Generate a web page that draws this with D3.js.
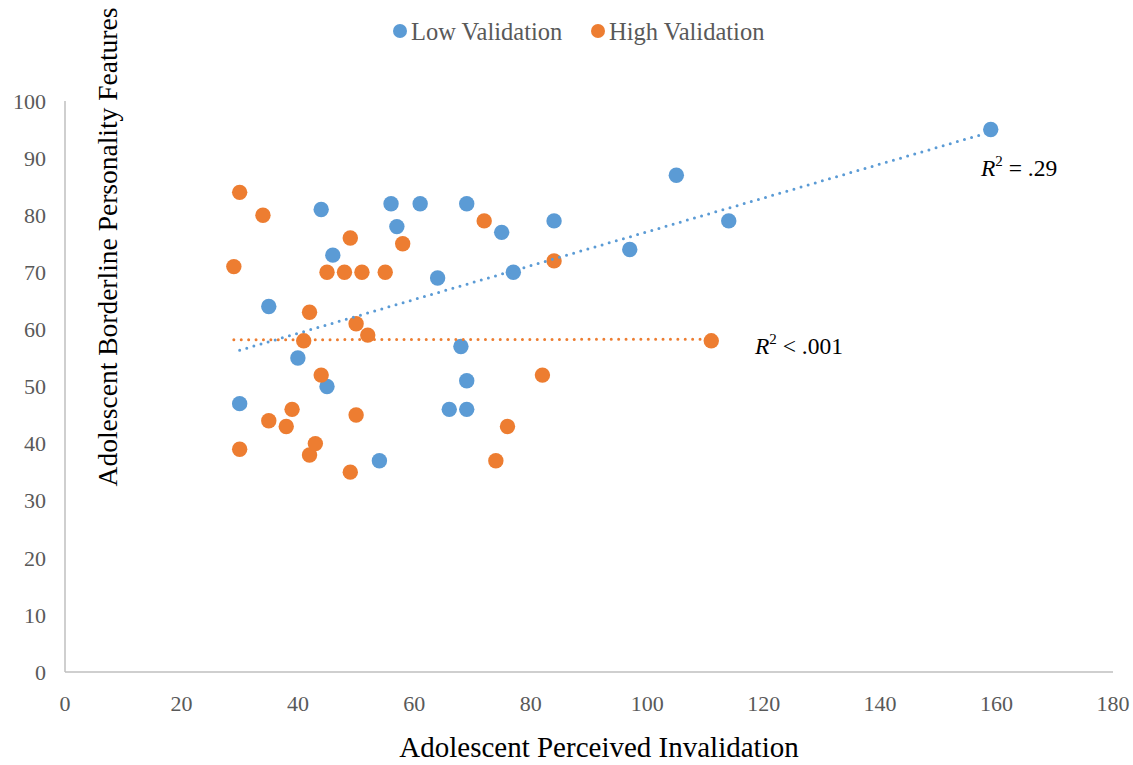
<!DOCTYPE html>
<html><head><meta charset="utf-8">
<script src="https://cdn.jsdelivr.net/npm/d3@7"></script>
<style>body{margin:0;background:#fff}svg{display:block}</style>
</head><body>
<svg id="chart" width="1133" height="765"></svg>
<script>
const seriesNames = ["Low Validation", "High Validation"];
const seriesColors = ["#5B9BD5", "#ED7D31"];
const lowX = [30,35,40,44,45,46,54,56,57,61,64,66,68,69,69,69,75,77,84,97,105,114,159];
const lowY = [47,64,55,81,50,73,37,82,78,82,69,46,57,82,51,46,77,70,79,74,87,79,95];
const highX = [29,30,30,34,35,38,39,41,42,42,43,44,45,48,49,49,50,50,51,52,55,58,72,74,76,82,84,111];
const highY = [71,84,39,80,44,43,46,58,63,38,40,52,70,70,76,35,61,45,70,59,70,75,79,37,43,52,72,58];
const xTicks = [0,20,40,60,80,100,120,140,160,180];
const yTicks = [0,10,20,30,40,50,60,70,80,90,100];
const r2Labels = [" = .29", " < .001"];

const svg = d3.select("#chart");
const x = d3.scaleLinear().domain([0,180]).range([65,1113]);
const y = d3.scaleLinear().domain([0,100]).range([672,101]);

// axes lines
svg.append("line").attr("x1",x(0)).attr("x2",x(180)).attr("y1",y(0)).attr("y2",y(0))
  .attr("stroke","#BFBFBF").attr("stroke-width",1.5);
svg.append("line").attr("x1",x(0)).attr("x2",x(0)).attr("y1",y(0)).attr("y2",y(100))
  .attr("stroke","#BFBFBF").attr("stroke-width",1.5);

const font = "'Liberation Serif','Times New Roman',serif";
svg.append("g").selectAll("text").data(yTicks).join("text")
  .attr("x",46).attr("y",d=>y(d)).attr("dy","0.35em").attr("text-anchor","end")
  .attr("font-family",font).attr("font-size",22).attr("fill","#595959").text(d=>d);
svg.append("g").selectAll("text").data(xTicks).join("text")
  .attr("x",d=>x(d)).attr("y",711).attr("text-anchor","middle")
  .attr("font-family",font).attr("font-size",22).attr("fill","#595959").text(d=>d);

// titles
svg.append("text").attr("x",599).attr("y",757).attr("text-anchor","middle")
  .attr("font-family",font).attr("font-size",29).attr("fill","#000")
  .text("Adolescent Perceived Invalidation");
svg.append("text").attr("transform","translate(117,247) rotate(-90)").attr("text-anchor","middle")
  .attr("font-family",font).attr("font-size",27.5).attr("fill","#000")
  .text("Adolescent Borderline Personality Features");

// regression
function fit(xs, ys){
  const n = xs.length, mx = d3.mean(xs), my = d3.mean(ys);
  let sxy=0,sxx=0; for(let i=0;i<n;i++){sxy+=(xs[i]-mx)*(ys[i]-my);sxx+=(xs[i]-mx)**2;}
  const b = sxy/sxx, a = my-b*mx;
  return [[d3.min(xs), a+b*d3.min(xs)],[d3.max(xs), a+b*d3.max(xs)]];
}
const series = [[lowX,lowY],[highX,highY]];

// points
series.forEach((s,i)=>{
  const pts = s[0].map((v,j)=>[v,s[1][j]]);
  svg.append("g").selectAll("circle").data(pts).join("circle")
    .attr("cx",d=>x(d[0])).attr("cy",d=>y(d[1])).attr("r",7.7)
    .attr("fill",seriesColors[i]);
});
// trendlines
series.forEach((s,i)=>{
  const f = fit(s[0],s[1]);
  svg.append("line").attr("x1",x(f[0][0])).attr("y1",y(f[0][1]))
    .attr("x2",x(f[1][0])).attr("y2",y(f[1][1]))
    .attr("stroke",seriesColors[i]).attr("stroke-width",3)
    .attr("stroke-linecap","round").attr("stroke-dasharray","0,7.4");
});

// R2 labels
const r2Pos = [[981,176],[755,354]];
r2Labels.forEach((t,i)=>{
  const tx = svg.append("text").attr("x",r2Pos[i][0]).attr("y",r2Pos[i][1])
    .attr("font-family",font).attr("font-size",23.5).attr("fill","#000");
  tx.append("tspan").attr("font-style","italic").text("R");
  tx.append("tspan").attr("font-size",15).attr("dy",-10).text("2");
  tx.append("tspan").attr("dy",10).text(t);
});

// legend
const legX = [400,598];
seriesNames.forEach((n,i)=>{
  svg.append("circle").attr("cx",legX[i]).attr("cy",31).attr("r",7).attr("fill",seriesColors[i]);
  svg.append("text").attr("x",legX[i]+11).attr("y",40).attr("font-family",font)
    .attr("font-size",24.5).attr("fill","#595959").text(n);
});
</script>
</body></html>
